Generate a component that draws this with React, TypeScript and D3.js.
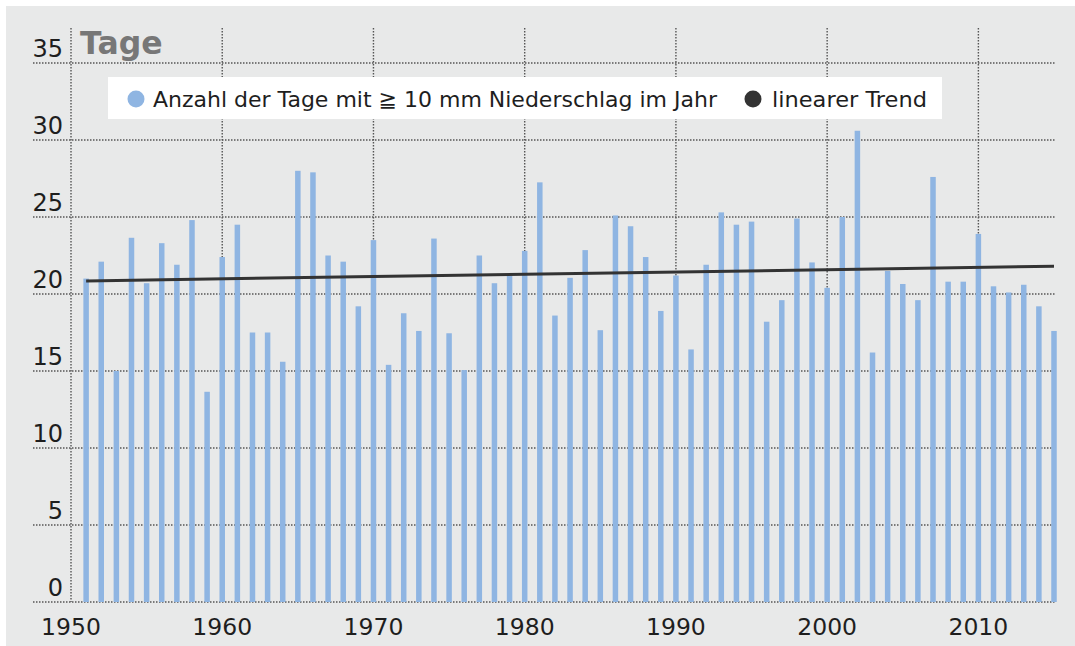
import React from 'react';
import * as d3 from 'd3';

// Anzahl der Tage mit >= 10 mm Niederschlag, 1951-2015
const firstYear = 1951;
const dayCounts = [
  21.0, 22.1, 15.0, 23.65, 20.7, 23.3, 21.9, 24.8, 13.65, 22.4,
  24.5, 17.5, 17.5, 15.6, 28.0, 27.9, 22.5, 22.1, 19.2, 23.5,
  15.4, 18.75, 17.6, 23.6, 17.45, 15.06, 22.5, 20.7, 21.2, 22.8,
  27.25, 18.6, 21.05, 22.85, 17.65, 25.1, 24.4, 22.4, 18.9, 21.2,
  16.4, 21.9, 25.3, 24.5, 24.7, 18.2, 19.6, 24.9, 22.05, 20.4,
  25.0, 30.6, 16.2, 21.5, 20.65, 19.6, 27.6, 20.8, 20.8, 23.9,
  20.5, 20.1, 20.6, 19.2, 17.6,
];
const trendYears = [1951, 2015];
const trendValues = [20.85, 21.8];
const yTicks = [0, 5, 10, 15, 20, 25, 30, 35];
const xTicks = [1950, 1960, 1970, 1980, 1990, 2000, 2010];
const legendLabels = ['Anzahl der Tage mit ≧ 10 mm Niederschlag im Jahr', 'linearer Trend'];

const W = 1075;
const H = 646;
const font = '"DejaVu Sans", Verdana, sans-serif';

export default function App() {
  const x = d3.scaleLinear().domain([1950, 2015]).range([71, 1054]);
  const y = d3.scaleLinear().domain([0, 35]).range([602, 63]);
  const data = dayCounts.map((v, i) => ({ year: firstYear + i, value: v }));
  const trend = d3.line<number>()
    .x((d, i) => x(trendYears[i]))
    .y(d => y(d));
  const gridStyle = { stroke: '#555', strokeWidth: 1.4, strokeDasharray: '1.5,1.5' };

  return (
    <svg width={W} height={H} style={{ position: 'absolute', left: 0, top: 0, display: 'block' }}>
      <rect x={0} y={0} width={W} height={H} fill="#ffffff" />
      <rect x={6} y={6} width={W - 6} height={H - 6} fill="#e8e9e9" />

      {/* horizontal grid */}
      {yTicks.map(t => (
        <line key={'h' + t} x1={33} x2={1055} y1={y(t)} y2={y(t)} {...gridStyle} />
      ))}
      {/* vertical grid */}
      {xTicks.map(t => (
        <line key={'v' + t} x1={x(t)} x2={x(t)} y1={28} y2={y(0)} {...gridStyle} />
      ))}

      {/* bars */}
      {data.map(d => (
        <rect key={d.year} x={x(d.year) - 2.75} width={5.5} y={y(d.value)}
          height={y(0) - y(d.value)} fill="#8fb5e2" />
      ))}

      {/* trend */}
      <path d={trend(trendValues) ?? ''} fill="none" stroke="#333333" strokeWidth={3} />

      {/* y labels */}
      {yTicks.map(t => (
        <text key={'yl' + t} x={63} y={y(t) - 6} textAnchor="end" fontFamily={font}
          fontSize={24} fill="#1e1e1e">{t}</text>
      ))}
      {/* x labels */}
      {xTicks.map(t => (
        <text key={'xl' + t} x={x(t)} y={635} textAnchor="middle" fontFamily={font}
          fontSize={23.5} fill="#1e1e1e">{t}</text>
      ))}

      <text x={80} y={54} fontFamily={font} fontSize={31.5} fontWeight="bold" fill="#777">Tage</text>

      {/* legend */}
      <rect x={108} y={77} width={834} height={42} fill="#ffffff" />
      <circle cx={136} cy={99} r={8.5} fill="#8fb5e2" />
      <text x={153} y={107} fontFamily={font} fontSize={22} fill="#1e1e1e"
        textLength={564} lengthAdjust="spacingAndGlyphs">{legendLabels[0]}</text>
      <circle cx={753} cy={99} r={8.5} fill="#333333" />
      <text x={772} y={107} fontFamily={font} fontSize={22} fill="#1e1e1e"
        textLength={155} lengthAdjust="spacingAndGlyphs">{legendLabels[1]}</text>
    </svg>
  );
}
